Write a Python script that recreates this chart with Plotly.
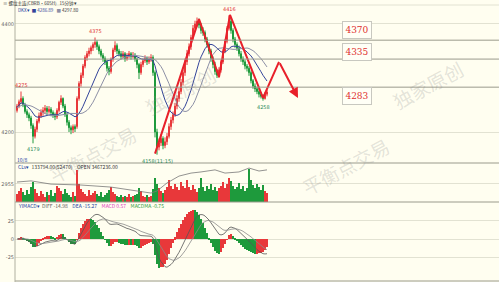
import plotly.graph_objects as go
import pandas as pd

W, H = 499, 282

opens = [4240,4248,4256,4262,4250,4238,4232,4226,4212,4192,4205,4220,4230,4236,4240,4244,4238,4242,4236,4232,
         4228,4240,4255,4262,4248,4232,4218,4208,4204,4210,4210,4262,4290,4305,4322,4338,4345,4350,4356,4362,
         4366,4358,4350,4342,4336,4330,4318,4312,4335,4352,4360,4350,4345,4340,4345,4336,4340,4345,4340,4342,
         4335,4325,4310,4325,4332,4336,4330,4334,4338,4310,4200,4172,4180,4188,4175,4182,4192,4210,4222,4232,
         4248,4262,4275,4292,4310,4330,4345,4358,4375,4392,4400,4405,4398,4388,4384,4372,4362,4350,4336,4325,
         4312,4305,4315,4330,4350,4368,4392,4405,4388,4372,4362,4355,4345,4335,4330,4322,4318,4310,4295,4285,
         4280,4275,4270,4266,4262,4270]
closes = [4248,4256,4262,4250,4238,4232,4226,4212,4192,4205,4220,4230,4236,4240,4244,4238,4242,4236,4232,4228,
          4240,4255,4262,4248,4232,4218,4208,4204,4210,4206,4262,4290,4305,4322,4338,4345,4350,4356,4362,4366,
          4358,4350,4342,4336,4330,4318,4312,4335,4352,4360,4350,4345,4340,4345,4336,4340,4345,4340,4342,4335,
          4325,4310,4325,4332,4336,4330,4334,4338,4310,4200,4172,4180,4188,4175,4182,4192,4210,4222,4232,4248,
          4262,4275,4292,4310,4330,4345,4358,4375,4392,4400,4405,4398,4388,4384,4372,4362,4350,4336,4325,4312,
          4305,4315,4330,4350,4368,4392,4405,4388,4372,4362,4355,4345,4335,4330,4322,4318,4310,4295,4285,4280,
          4275,4270,4266,4262,4270,4274]
highs = [4252,4260,4275,4266,4254,4242,4236,4230,4216,4210,4224,4236,4242,4246,4250,4248,4248,4246,4240,4236,
         4244,4258,4268,4264,4252,4236,4222,4212,4214,4214,4266,4294,4310,4326,4342,4350,4356,4360,4366,4375,
         4370,4362,4354,4346,4340,4334,4322,4338,4356,4368,4364,4354,4350,4350,4348,4346,4350,4348,4348,4346,
         4338,4328,4330,4336,4342,4340,4340,4344,4342,4314,4206,4188,4196,4192,4190,4198,4216,4228,4238,4254,
         4268,4282,4298,4316,4336,4352,4364,4380,4398,4406,4412,4410,4402,4394,4388,4376,4366,4354,4340,4330,
         4316,4320,4334,4354,4372,4396,4416,4410,4392,4376,4366,4360,4350,4340,4334,4326,4322,4314,4298,4290,
         4284,4280,4274,4270,4274,4278]
lows = [4236,4244,4252,4246,4234,4226,4220,4206,4179,4188,4200,4216,4226,4230,4234,4232,4234,4230,4226,4222,
        4224,4236,4250,4244,4228,4212,4200,4196,4198,4200,4206,4258,4284,4300,4318,4332,4340,4344,4350,4356,
        4352,4344,4338,4330,4324,4312,4305,4308,4330,4348,4344,4340,4334,4336,4330,4332,4336,4334,4336,4330,
        4318,4298,4306,4320,4328,4324,4326,4330,4304,4190,4158,4166,4174,4168,4170,4176,4188,4204,4216,4228,
        4242,4256,4270,4286,4304,4324,4340,4352,4370,4386,4394,4392,4382,4378,4366,4356,4344,4330,4318,4306,
        4300,4300,4310,4326,4346,4364,4388,4382,4366,4356,4350,4340,4330,4324,4316,4312,4304,4290,4280,4274,
        4270,4264,4262,4258,4260,4266]
volumes = [900,1200,1500,1100,800,1300,900,1600,2200,1400,1000,700,1200,900,600,1100,800,1300,700,1000,
           1800,1500,1200,900,1400,1000,800,600,1100,700,3500,2000,1400,1100,900,700,1300,800,1000,1200,
           900,700,1100,600,800,1000,1300,1600,1100,900,700,600,800,500,700,600,900,500,700,800,
           900,1500,1200,700,600,800,500,700,1400,2600,2000,1500,1200,1000,1300,1600,2400,1800,1400,2000,
           1700,1300,2200,1800,1500,2400,1600,1300,1900,1400,1100,1500,2600,1700,1200,1800,1400,2000,1300,1600,
           1200,1500,1800,2200,1500,2000,2700,2300,1800,1400,1600,2100,1400,1800,1200,1500,3600,2400,1900,1500,
           2000,1600,1300,1900,1200,1000]
oi_idx = [0, 7, 17, 32, 47, 57, 67, 70, 75, 81, 87, 92, 99, 104, 111, 116, 121, 125]
oi_vals = [1337, 1342, 1328, 1324, 1315, 1302, 1289, 1298, 1333, 1363, 1376, 1381, 1390, 1376, 1381, 1398, 1385, 1390]

zig_idx = [69, 91, 101, 106.5, 123, 131]
zig_px = [4160, 4409, 4302, 4417, 4263, 4330]
arrow_end_idx, arrow_end_px = 140.5, 4263

levels = [4370, 4335, 4283]
level_texts = ["4370", "4335", "4283"]
level_box_px = [4388, 4348, 4266]

extremes = [(2, 4275, "4275", "hi"), (8, 4179, "4179", "lo"), (39, 4375, "4375", "hi"),
            (106, 4416, "4416", "hi"), (123, 4258, "4258", "lo"), (70, 4158, "4158(11:15)", "lo")]

idx = list(range(len(closes)))
RED, GREEN = "#e8383a", "#1e9a3c"

# ---- indicators derived from the candles ----
mid = [(3 * c + l + o + h) / 6 for o, h, l, c in zip(opens, highs, lows, closes)]
dkx = []
for t in range(len(mid)):
    num = den = 0.0
    for k in range(20):
        if t - k < 0:
            break
        w = 20 - k
        num += w * mid[t - k]
        den += w
    dkx.append(num / den)
madkx = pd.Series(dkx).rolling(10, min_periods=1).mean().tolist()

cs = pd.Series(closes, dtype=float)
dif = cs.ewm(span=12, adjust=False).mean() - cs.ewm(span=26, adjust=False).mean()
dea = dif.ewm(span=9, adjust=False).mean()
hist = (2 * (dif - dea)).tolist()
hist_col = [RED if i == 0 or hist[i] >= hist[i - 1] else GREEN for i in range(len(hist))]

fig = go.Figure()
fig.add_trace(go.Candlestick(x=idx, open=opens, high=highs, low=lows, close=closes,
                             increasing=dict(line=dict(color=RED, width=1), fillcolor=RED),
                             decreasing=dict(line=dict(color=GREEN, width=1), fillcolor=GREEN),
                             whiskerwidth=0, xaxis="x", yaxis="y", showlegend=False))
fig.add_trace(go.Scatter(x=idx, y=dkx, mode="lines", line=dict(color="#33449a", width=1),
                         xaxis="x", yaxis="y", showlegend=False))
fig.add_trace(go.Scatter(x=idx, y=madkx, mode="lines", line=dict(color="#8d90a6", width=1),
                         xaxis="x", yaxis="y", showlegend=False))
fig.add_trace(go.Scatter(x=zig_idx, y=zig_px, mode="lines", line=dict(color="#e8202a", width=2),
                         xaxis="x", yaxis="y", showlegend=False))

vol_col = [RED if c >= o else GREEN for o, c in zip(opens, closes)]
fig.add_trace(go.Bar(x=idx, y=volumes, marker=dict(color=vol_col, line=dict(width=0)), width=0.8,
                     xaxis="x2", yaxis="y2", showlegend=False))
fig.add_trace(go.Scatter(x=oi_idx, y=oi_vals, mode="lines", line=dict(color="#777777", width=0.8),
                         xaxis="x2", yaxis="y4", showlegend=False))

fig.add_trace(go.Bar(x=idx, y=hist, marker=dict(color=hist_col, line=dict(width=0)), width=1.0,
                     xaxis="x3", yaxis="y3", showlegend=False))
fig.add_trace(go.Scatter(x=idx, y=dif.tolist(), mode="lines", line=dict(color="#555555", width=0.8),
                         xaxis="x3", yaxis="y3", showlegend=False))
fig.add_trace(go.Scatter(x=idx, y=dea.tolist(), mode="lines", line=dict(color="#8a8a8a", width=0.8),
                         xaxis="x3", yaxis="y3", showlegend=False))

xl = 15 / W
d_price = [1 - 163 / H, 1]
d_vol = [1 - 202 / H, 1 - 163 / H]
d_macd = [0, 1 - 202 / H]
xr = [-1, 241]
tickf = dict(size=5, color="#666666", family="DejaVu Sans")
grid = "#e2e2d2"

fig.update_layout(
    width=W, height=H, margin=dict(l=0, r=0, t=0, b=0),
    paper_bgcolor="#fffef0", plot_bgcolor="#fffef0", bargap=0,
    xaxis=dict(domain=[xl, 1], range=xr, showticklabels=False, showgrid=False, zeroline=False,
               rangeslider=dict(visible=False), anchor="y"),
    xaxis2=dict(domain=[xl, 1], range=xr, showticklabels=False, showgrid=False, zeroline=False,
                matches="x", anchor="y2"),
    xaxis3=dict(domain=[xl, 1], range=xr, showticklabels=False, showgrid=False, zeroline=False,
                matches="x", anchor="y3"),
    yaxis=dict(domain=d_price, range=[4142.6, 4444.4], tickvals=[4200, 4400], ticktext=["4200", "4400"],
               tickfont=tickf, showgrid=True, gridcolor=grid, zeroline=False, ticks=""),
    yaxis2=dict(domain=d_vol, range=[0, 4300], tickvals=[2000], ticktext=["2955"], tickfont=tickf,
                showgrid=True, gridcolor=grid, zeroline=False),
    yaxis3=dict(domain=d_macd, range=[-59, 51], tickvals=[-25, 0, 25], ticktext=["-25", "0", "25"],
                tickfont=tickf, showgrid=True, gridcolor=grid, zeroline=False),
    yaxis4=dict(overlaying="y2", range=[1250, 1420], visible=False),
)

shapes = []
shapes.append(dict(type="line", xref="paper", yref="paper", x0=xl, x1=1, y0=1 - 5 / H, y1=1 - 5 / H,
                   line=dict(color=grid, width=1)))
for lv in levels:
    shapes.append(dict(type="line", xref="paper", yref="y", x0=xl, x1=1, y0=lv, y1=lv,
                       line=dict(color="#9a9a8c", width=1)))
for yy in [163, 202, 281]:
    shapes.append(dict(type="line", xref="paper", yref="paper", x0=xl, x1=1, y0=1 - yy / H, y1=1 - yy / H,
                       line=dict(color="#9a9a8c", width=1)))
shapes.append(dict(type="line", xref="paper", yref="paper", x0=xl, x1=xl, y0=0, y1=1,
                   line=dict(color="#b0b0a0", width=1)))
fig.update_layout(shapes=shapes)

ann = []
ann.append(dict(x=arrow_end_idx, y=arrow_end_px, ax=zig_idx[-1], ay=zig_px[-1], xref="x", yref="y",
                axref="x", ayref="y", showarrow=True, arrowhead=2, arrowsize=1, arrowwidth=2,
                arrowcolor="#e8202a", text=""))
for lv, t, by in zip(levels, level_texts, level_box_px):
    ann.append(dict(x=357 / W, y=by, xref="paper", yref="y", text=t, showarrow=False,
                    xanchor="center", yanchor="middle",
                    font=dict(size=9, color="#e03030", family="DejaVu Serif"),
                    bordercolor="#c8c8c0", borderwidth=1, borderpad=2, bgcolor="#fffff6",
                    width=24, height=12))
for i, p, t, kind in extremes:
    ann.append(dict(x=i, y=p, xref="x", yref="y", text=t, showarrow=False,
                    yanchor="bottom" if kind == "hi" else "top", yshift=1 if kind == "hi" else -1,
                    font=dict(size=5, color="#e03030" if kind == "hi" else "#2a8a5a", family="DejaVu Sans")))

# watermarks
wm = dict(showarrow=False, xref="paper", yref="paper", textangle=-28, xanchor="center", yanchor="middle",
          font=dict(size=19, color="rgba(140,140,140,0.24)", family="Noto Sans CJK SC"))
for txt, px, py in [("平衡点交易", 92, 154), ("独家原创", 180, 90), ("平衡点交易", 345, 166), ("独家原创", 428, 85)]:
    ann.append(dict(text=txt, x=px / W, y=1 - py / H, **wm))

small = dict(showarrow=False, xref="paper", yref="paper", xanchor="left", yanchor="middle", borderpad=0)
fsm = "Noto Sans CJK SC"
ann.append(dict(text="≡ 螺纹主连(CBRB·605H)   15分钟 ▾", x=2 / W, y=1 - 3.4 / H,
                font=dict(size=4.5, color="#333333", family=fsm), **small))
ann.append(dict(text="<span style='color:#2040a0'>DKX▾</span>  <span style='color:#33449a'>■ 4286.89</span>"
                     "   <span style='color:#8d90a6'>■</span> 4297.80",
                x=17 / W, y=1 - 10.2 / H, font=dict(size=4.5, color="#333333", family=fsm), **small))
ann.append(dict(text="10/8", x=16 / W, y=1 - 159 / H, font=dict(size=5, color="#2040a0", family=fsm), **small))
ann.append(dict(text="<span style='color:#2040a0'>CLv▾</span>  133794.00(52470)    OPEN 3467236.00",
                x=17 / W, y=1 - 166.5 / H, font=dict(size=5, color="#333333", family=fsm), **small))
ann.append(dict(text="<span style='color:#2040a0'>YIMACD▾</span>  <span style='color:#555555'>DIFF -14.98</span>"
                     "    <span style='color:#2040a0'>DEA -15.27</span>    <span style='color:#e040c0'>MACD 0.57</span>"
                     "    <span style='color:#2a9a3a'>MACDMA -0.75</span>",
                x=17 / W, y=1 - 205.5 / H, font=dict(size=5, color="#333333", family=fsm), **small))
fig.update_layout(annotations=ann)

fig.write_html("out.html")
